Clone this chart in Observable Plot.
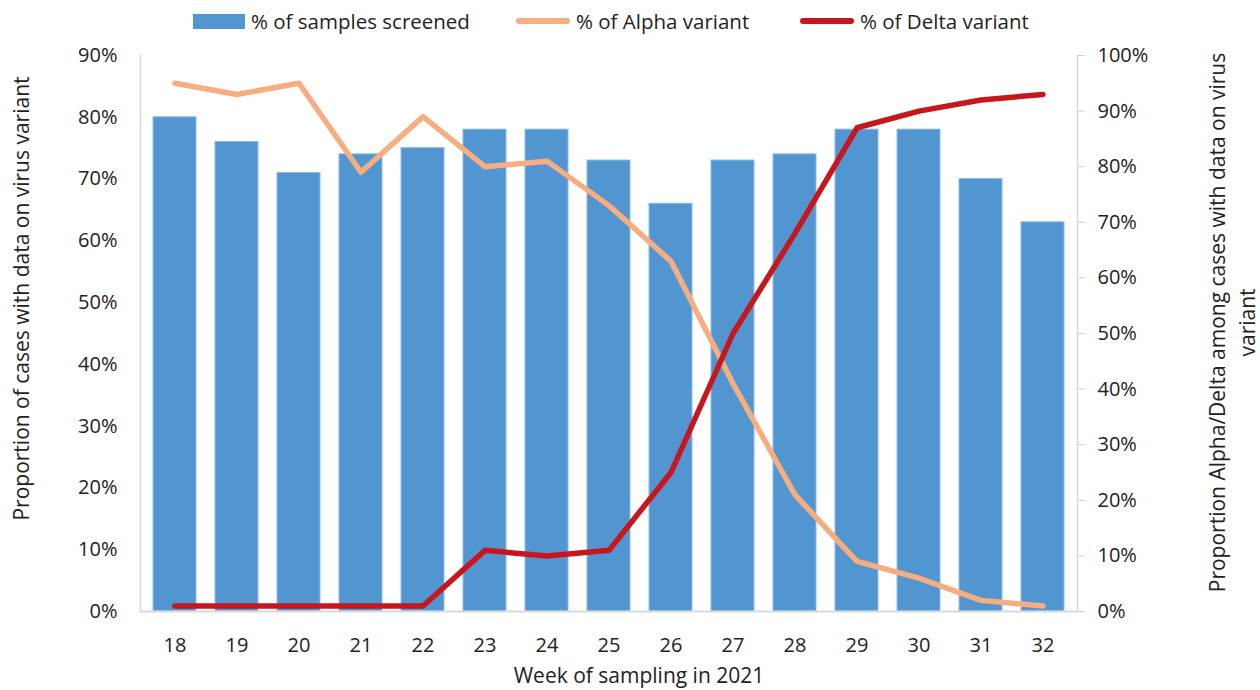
<!DOCTYPE html>
<html>
<head>
<meta charset="utf-8">
<script src="https://cdn.jsdelivr.net/npm/d3@7"></script>
<script src="https://cdn.jsdelivr.net/npm/@observablehq/plot@0.6"></script>
<style>
  html, body { margin: 0; padding: 0; background: #fff; }
  body { width: 1260px; height: 690px; overflow: hidden; font-family: "Open Sans", sans-serif; color: #222; }
  #legend { height: 40px; position: relative; font-size: 20.5px; }
  .item { position: absolute; top: 7px; display: flex; align-items: center; height: 28px; }
  .sw { display: inline-block; margin-right: 6px; }
  .sw.bar { width: 52px; height: 15px; background: #5296D1; }
  .sw.line { width: 54px; height: 6px; border-radius: 3px; }
</style>
</head>
<body>
<div id="legend"></div>
<div id="chart"></div>
<script>
const weeks = [18, 19, 20, 21, 22, 23, 24, 25, 26, 27, 28, 29, 30, 31, 32];
const screened = [80, 76, 71, 74, 75, 78, 78, 73, 66, 73, 74, 78, 78, 70, 63];
const alpha = [95, 93, 95, 79, 89, 80, 81, 73, 63, 41, 21, 9, 6, 2, 1];
const delta = [1, 1, 1, 1, 1, 11, 10, 11, 25, 50, 68, 87, 90, 92, 93];
const leftTicks = [0, 10, 20, 30, 40, 50, 60, 70, 80, 90];
const rightTicks = [0, 10, 20, 30, 40, 50, 60, 70, 80, 90, 100];
const seriesNames = ["% of samples screened", "% of Alpha variant", "% of Delta variant"];
const colors = ["#5296D1", "#F6AD80", "#C8161D"];

const leftMax = 90, rightMax = 100;
const k = leftMax / rightMax; // map right-axis percentages onto the left scale

const data = weeks.map((w, i) => ({week: String(w), screened: screened[i], alpha: alpha[i], delta: delta[i]}));

// legend
const legend = document.getElementById("legend");
const legendX = [193, 516, 800];
seriesNames.forEach((name, i) => {
  const it = document.createElement("div");
  it.className = "item";
  it.style.left = legendX[i] + "px";
  const sw = document.createElement("span");
  sw.className = "sw " + (i === 0 ? "bar" : "line");
  sw.style.background = colors[i];
  const t = document.createElement("span");
  t.textContent = name;
  it.appendChild(sw); it.appendChild(t);
  legend.appendChild(it);
});

const chart = Plot.plot({
  width: 1260,
  height: 650,
  marginTop: 15,
  marginBottom: 79,
  marginLeft: 140,
  marginRight: 183,
  style: {fontFamily: "Open Sans, sans-serif", fontSize: "20px", color: "#222", background: "#fff"},
  x: {type: "band", domain: weeks.map(String), paddingInner: 0.31, paddingOuter: 0.13, label: null},
  y: {domain: [0, leftMax], label: null},
  marks: [
    Plot.barY(data, {x: "week", y: "screened", fill: colors[0], stroke: "#8EBBE3", strokeWidth: 1}),
    Plot.axisX({tickSize: 0, tickPadding: 26, fontSize: 20, label: null}),
    Plot.axisY({anchor: "left", ticks: leftTicks, tickSize: 0, tickPadding: 23, tickFormat: d => d + "%", fontSize: 20, label: null}),
    Plot.axisY({anchor: "right", ticks: rightTicks.map(v => v * k), tickSize: 7, tickPadding: 13, stroke: "#d0d0d0",
      tickFormat: d => Math.round(d / k) + "%", fontSize: 20, label: null}),
    Plot.frame({anchor: "left", stroke: "#d9d9d9", strokeWidth: 1.5}),
    Plot.frame({anchor: "right", stroke: "#d9d9d9", strokeWidth: 1.5}),
    Plot.ruleY([0], {stroke: "#d9d9d9", strokeWidth: 2}),
    Plot.line(data, {x: "week", y: d => d.alpha * k, stroke: colors[1], strokeWidth: 5.5, strokeLinejoin: "round", strokeLinecap: "round"}),
    Plot.line(data, {x: "week", y: d => d.delta * k, stroke: colors[2], strokeWidth: 5.5, strokeLinejoin: "round", strokeLinecap: "round"}),
    Plot.text(["Proportion of cases with data on virus variant"], {frameAnchor: "left", textAnchor: "middle", lineAnchor: "middle", dx: -118, dy: -35, rotate: -90, fontSize: 21, fill: "#222"}),
    Plot.text(["Proportion Alpha/Delta among cases with data on virus\nvariant"], {frameAnchor: "right", textAnchor: "middle", lineAnchor: "middle", dx: 153, dy: -11, rotate: -90, fontSize: 21, lineHeight: 1.43, fill: "#222"}),
    Plot.text(["Week of sampling in 2021"], {frameAnchor: "bottom", textAnchor: "middle", lineAnchor: "middle", dx: 30, dy: 65, fontSize: 21, fill: "#222"})
  ]
});
document.getElementById("chart").appendChild(chart);
</script>
</body>
</html>
